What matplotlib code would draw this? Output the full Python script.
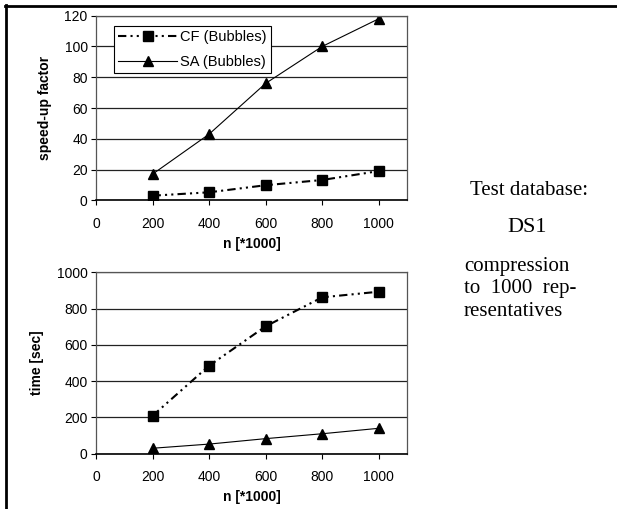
import matplotlib
matplotlib.use("Agg")
import matplotlib.pyplot as plt
from matplotlib.lines import Line2D

plt.rcParams['font.family'] = ['Liberation Sans', 'DejaVu Sans']

# data
n = [200, 400, 600, 800, 1000]
cf_speedup = [3, 5.2, 9.8, 13.2, 19]
sa_speedup = [17, 43, 76, 100, 118]
cf_time = [209, 485, 702, 862, 893]
sa_time = [30, 53, 83, 110, 140]
x_ticks = [0, 200, 400, 600, 800, 1000]
speed_ticks = [0, 20, 40, 60, 80, 100, 120]
time_ticks = [0, 200, 400, 600, 800, 1000]

W, H = 617, 509
fig = plt.figure(figsize=(W / 100, H / 100), dpi=100)


def px_axes(left, top, right, bottom):
    return fig.add_axes([left / W, 1 - bottom / H, (right - left) / W, (bottom - top) / H])


def style(ax, yticks, ylabel):
    ax.set_xlim(0, 1100)
    ax.set_xticks(x_ticks)
    ax.set_ylim(yticks[0], yticks[-1])
    ax.set_yticks(yticks)
    ax.yaxis.grid(True, color='#222222', lw=0.9)
    ax.set_axisbelow(True)
    for s in ax.spines.values():
        s.set_color('#555555')
        s.set_linewidth(0.9)
    ax.spines['bottom'].set_color('black')
    ax.spines['bottom'].set_linewidth(1.2)
    ax.tick_params(labelsize=10, length=3.5, width=0.8)
    ax.tick_params(axis='x', pad=8.5)
    ax.tick_params(axis='y', pad=2.5)
    ax.set_xlabel('n [*1000]', fontsize=10, fontweight='bold', labelpad=4)
    ax.set_ylabel(ylabel, fontsize=10, fontweight='bold', labelpad=9)


cf_kw = dict(color='black', lw=1.5, dashes=(4, 2, 1, 2, 1, 2), marker='s', markersize=7)
sa_kw = dict(color='black', lw=0.8, marker='^', markersize=7.5)

ax1 = px_axes(96, 15.7, 407, 200.3)
ax1.plot(n, cf_speedup, label='CF (Bubbles)', **cf_kw)
ax1.plot(n, sa_speedup, label='SA (Bubbles)', **sa_kw)
style(ax1, speed_ticks, 'speed-up factor')
leg = ax1.legend(loc='upper left', bbox_to_anchor=(0.058, 0.944), borderaxespad=0,
                 fancybox=False, edgecolor='black', framealpha=1, fontsize=10.5,
                 handlelength=4.0, handletextpad=0.2, borderpad=0.3, labelspacing=0.7)
leg.get_frame().set_linewidth(0.8)

ax2 = px_axes(96, 272.3, 407, 453.7)
ax2.plot(n, cf_time, **cf_kw)
ax2.plot(n, sa_time, **sa_kw)
style(ax2, time_ticks, 'time [sec]')

# side notes
serif = ['Liberation Serif', 'DejaVu Serif']
fig.text(529 / W, 1 - 195 / H, 'Test database:', family=serif, fontsize=15, ha='center', va='baseline')
fig.text(527 / W, 1 - 232 / H, 'DS1', family=serif, fontsize=16, ha='center', va='baseline')
fig.text(464 / W, 1 - 271 / H, 'compression', family=serif, fontsize=15, ha='left', va='baseline')
fig.text(464 / W, 1 - 293.5 / H, 'to  1000  rep-', family=serif, fontsize=15, ha='left', va='baseline')
fig.text(464 / W, 1 - 316.5 / H, 'resentatives', family=serif, fontsize=15, ha='left', va='baseline')

# frame lines (top and left only)
fig.add_artist(Line2D([5 / W, 1], [1 - 5.8 / H, 1 - 5.8 / H], color='black', lw=2, transform=fig.transFigure))
fig.add_artist(Line2D([6 / W, 6 / W], [0, 1 - 5 / H], color='black', lw=2, transform=fig.transFigure))

fig.savefig('out.png', dpi=100)
